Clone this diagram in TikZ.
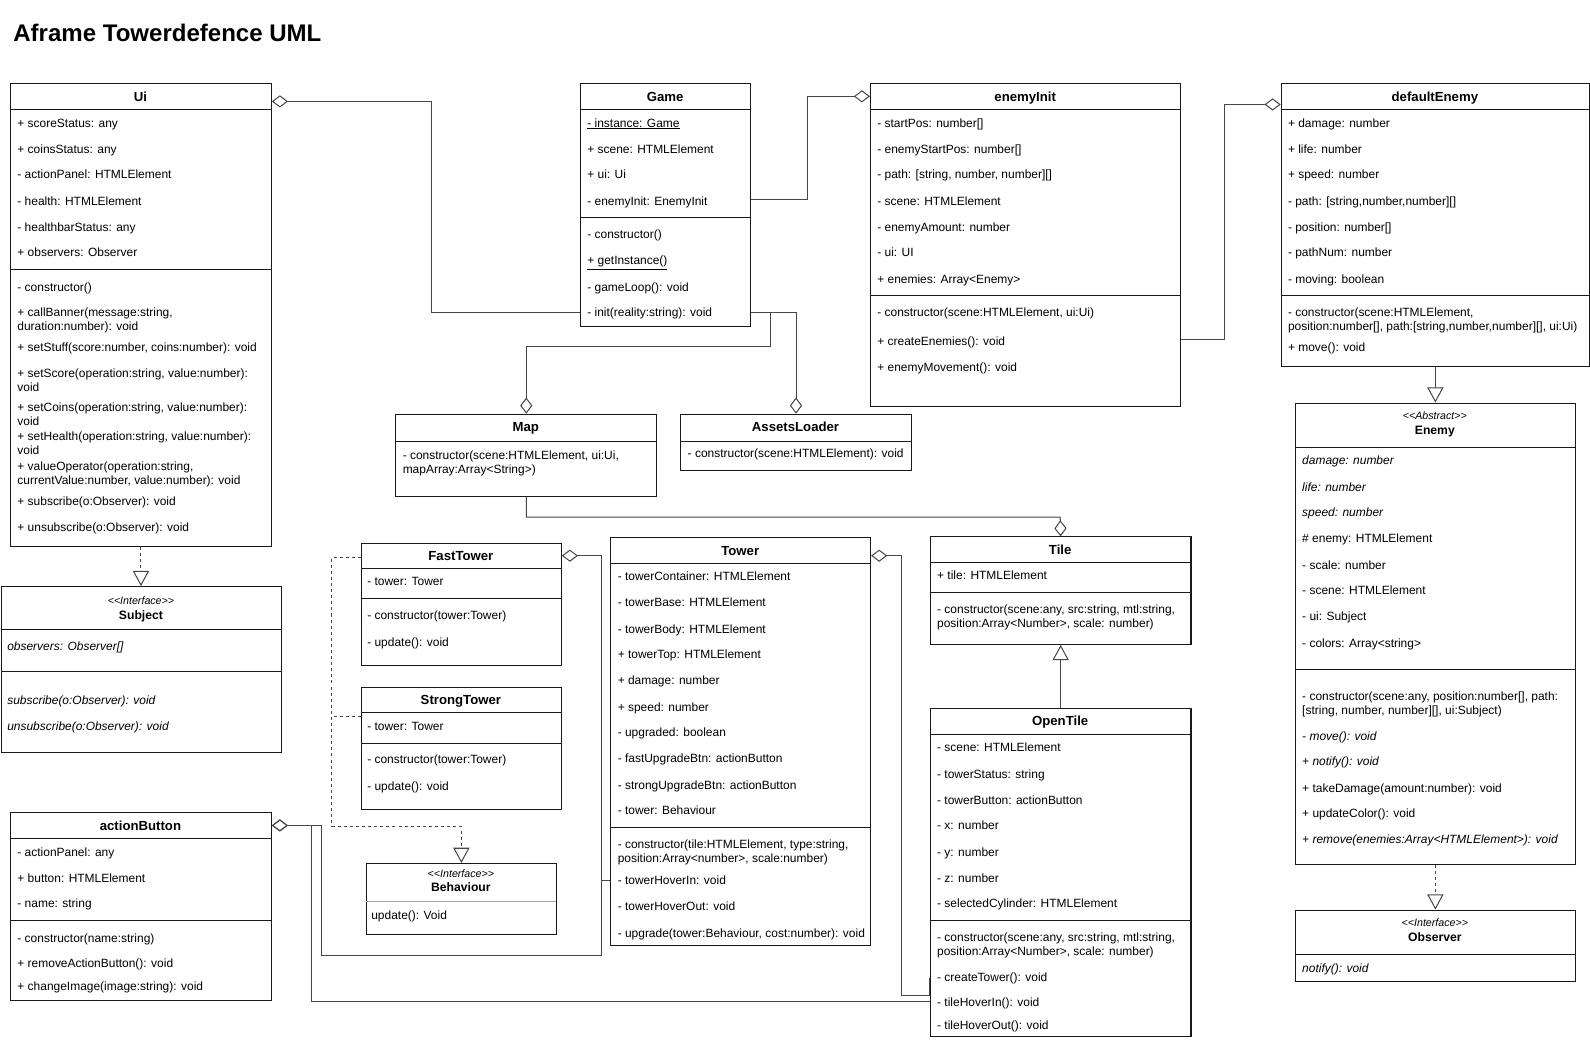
\documentclass[tikz,border=0pt]{standalone}
\usepackage{fontspec}
\setmainfont{Liberation Sans}
\usetikzlibrary{arrows.meta}
\newcounter{memc}
\newcommand\umlbox[6]{% name L T R B headerY
  \node[cls, minimum width={(#4-#2)*1pt}, minimum height={(#5-#3)*1pt}] (#1) at (#2,#3) {};
  \draw[sepline] (#2,#6) -- (#4,#6);}
\newcommand\hsep[3]{\draw[sepline] (#1,#3) -- (#2,#3);}
\newcommand\themememc{\arabic{memc}}
% single-line member: baseline placed relative to the row centre
\newcommand\umem[3]{\stepcounter{memc}\node[mem, anchor=base west] (m-\themememc) at (#1,#2+4.3) {#3};}
% two-line member: centred on the given y
\newcommand\umemm[3]{\stepcounter{memc}\node[mem, anchor=west] (m-\themememc) at (#1,#2+0.5) {#3};}
\newcommand\utitle[4]{\node[ttl, anchor=base] (#1) at (#2,#3+4.6) {#4};}
\newcommand\lt{<{}}
\newcommand\gt{>{}}
\begin{document}
\begin{tikzpicture}[x=1pt,y=-1pt,
  cls/.style={draw=black!90, line width=1pt, fill=white, inner sep=0pt, anchor=north west},
  sepline/.style={draw=black!90, line width=1pt},
  mem/.style={inner sep=0pt, font=\fontsize{11.8}{13.8}\selectfont, align=left},
  ttl/.style={inner sep=0pt, font=\bfseries\fontsize{13}{15}\selectfont},
  sttl/.style={inner sep=0pt, anchor=base, font=\bfseries\fontsize{12}{14}\selectfont},
  stereo/.style={inner sep=0pt, anchor=base, font=\itshape\fontsize{10.5}{12}\selectfont},
  conn/.style={draw=black!72, line width=1pt},
  agg/.style={conn, -{Diamond[open, length=16pt, width=12pt, line width=1pt]}},
  inh/.style={conn, -{Triangle[open, length=15pt, width=16pt, line width=1pt]}},
  real/.style={inh, dash pattern=on 3pt off 3pt},
  dashline/.style={conn, dash pattern=on 3pt off 3pt}
]
\useasboundingbox[fill=white] (0,0) rectangle (1568,1025.6);

\node[anchor=base west, inner sep=0pt, font=\bfseries\fontsize{23.7}{26}\selectfont] (title) at (13,40.5) {Aframe Towerdefence UML};

% ---------------- Ui
\umlbox{ui}{10}{82}{267}{538}{108}
\utitle{uit}{138.5}{95}{Ui}
\umem{17}{121}{+ scoreStatus: any}
\umem{17}{147}{+ coinsStatus: any}
\umem{17}{172}{- actionPanel: HTMLElement}
\umem{17}{198}{- health: HTMLElement}
\umem{17}{224}{- healthbarStatus: any}
\umem{17}{249}{+ observers: Observer}
\hsep{10}{267}{266}
\umem{17}{283}{- constructor()}
\umemm{17}{315}{+ callBanner(message:string,\\duration:number): void}
\umem{17}{342}{+ setStuff(score:number, coins:number): void}
\umemm{17}{374}{+ setScore(operation:string, value:number):\\void}
\umemm{17}{408}{+ setCoins(operation:string, value:number):\\void}
\umemm{17}{437}{+ setHealth(operation:string, value:number):\\void}
\umemm{17}{467}{+ valueOperator(operation:string,\\currentValue:number, value:number): void}
\umem{17}{494}{+ subscribe(o:Observer): void}
\umem{17}{520}{+ unsubscribe(o:Observer): void}

% ---------------- Subject
\umlbox{subject}{1}{578}{277}{742}{621}
\node[stereo] (subj-s) at (139,596) {\lt\lt Interface\gt\gt};
\node[sttl] (subj-t) at (139,610.5) {Subject};
\umem{7}{637}{\itshape observers: Observer[]}
\hsep{1}{277}{662}
\umem{7}{690}{\itshape subscribe(o:Observer): void}
\umem{7}{716}{\itshape unsubscribe(o:Observer): void}

% ---------------- actionButton
\umlbox{actionbutton}{10}{801}{267}{986}{827}
\utitle{abt}{138.5}{814}{actionButton}
\umem{17}{840}{- actionPanel: any}
\umem{17}{866}{+ button: HTMLElement}
\umem{17}{891}{- name: string}
\hsep{10}{267}{908}
\umem{17}{925}{- constructor(name:string)}
\umem{17}{950}{+ removeActionButton(): void}
\umem{17}{972}{+ changeImage(image:string): void}

% ---------------- Game
\umlbox{game}{572}{82}{740}{321}{108}
\utitle{gamet}{656}{95}{Game}
\umem{579}{121}{\underline{- instance: Game}}
\umem{579}{147}{+ scene: HTMLElement}
\umem{579}{172}{+ ui: Ui}
\umem{579}{198}{- enemyInit: EnemyInit}
\hsep{572}{740}{214}
\umem{579}{231}{- constructor()}
\umem{579}{257}{\underline{+ getInstance()}}
\umem{579}{283}{- gameLoop(): void}
\umem{579}{308}{- init(reality:string): void}

% ---------------- enemyInit
\umlbox{enemyinit}{858}{82}{1164}{400}{108}
\utitle{eit}{1011}{95}{enemyInit}
\umem{865}{121}{- startPos: number[]}
\umem{865}{147}{- enemyStartPos: number[]}
\umem{865}{172}{- path: [string, number, number][]}
\umem{865}{198}{- scene: HTMLElement}
\umem{865}{224}{- enemyAmount: number}
\umem{865}{249}{- ui: UI}
\umem{865}{275}{+ enemies: Array\lt Enemy\gt}
\hsep{858}{1164}{291}
\umem{865}{308}{- constructor(scene:HTMLElement, ui:Ui)}
\umem{865}{336}{+ createEnemies(): void}
\umem{865}{362}{+ enemyMovement(): void}

% ---------------- defaultEnemy
\umlbox{defenemy}{1263}{82}{1567}{361}{108}
\utitle{det}{1415}{95}{defaultEnemy}
\umem{1270}{121}{+ damage: number}
\umem{1270}{147}{+ life: number}
\umem{1270}{172}{+ speed: number}
\umem{1270}{198}{- path: [string,number,number][]}
\umem{1270}{224}{- position: number[]}
\umem{1270}{249}{- pathNum: number}
\umem{1270}{275}{- moving: boolean}
\hsep{1263}{1567}{291}
\umemm{1270}{315}{- constructor(scene:HTMLElement,\\position:number[], path:[string,number,number][], ui:Ui)}
\umem{1270}{342}{+ move(): void}

% ---------------- Enemy
\umlbox{enemy}{1277}{397}{1553}{852}{441}
\node[stereo] (en-s) at (1415,414) {\lt\lt Abstract\gt\gt};
\node[sttl] (en-t) at (1415,428.5) {Enemy};
\umem{1284}{454}{\itshape damage: number}
\umem{1284}{480}{\itshape life: number}
\umem{1284}{505}{\itshape speed: number}
\umem{1284}{531}{\# enemy: HTMLElement}
\umem{1284}{557}{- scale: number}
\umem{1284}{582}{- scene: HTMLElement}
\umem{1284}{608}{- ui: Subject}
\umem{1284}{634}{- colors: Array\lt string\gt}
\hsep{1277}{1553}{660}
\umemm{1284}{694}{- constructor(scene:any, position:number[], path:\\{}[string, number, number][], ui:Subject)}
\umem{1284}{726}{\itshape - move(): void}
\umem{1284}{751}{\itshape + notify(): void}
\umem{1284}{777}{+ takeDamage(amount:number): void}
\umem{1284}{802}{+ updateColor(): void}
\umem{1284}{828}{\itshape + remove(enemies:Array\lt HTMLElement\gt): void}

% ---------------- Observer
\umlbox{observer}{1277}{897}{1553}{967}{941}
\node[stereo] (ob-s) at (1415,914) {\lt\lt Interface\gt\gt};
\node[sttl] (ob-t) at (1415,928.5) {Observer};
\umem{1284}{955}{\itshape notify(): void}

% ---------------- Map
\umlbox{map}{390}{408}{647}{489}{435}
\utitle{mapt}{518.5}{421}{Map}
\umemm{397}{456}{- constructor(scene:HTMLElement, ui:Ui,\\mapArray:Array\lt String\gt)}

% ---------------- AssetsLoader
\umlbox{assets}{671}{408}{898}{463}{435}
\utitle{alt}{784.5}{421}{AssetsLoader}
\umem{678}{447}{- constructor(scene:HTMLElement): void}

% ---------------- Tile
\umlbox{tile}{917}{529}{1174}{635}{555}
\utitle{tilet}{1045.5}{542}{Tile}
\umem{924}{567}{+ tile: HTMLElement}
\hsep{917}{1174}{584}
\umemm{924}{608}{- constructor(scene:any, src:string, mtl:string,\\position:Array\lt Number\gt, scale: number)}

% ---------------- OpenTile
\umlbox{opentile}{917}{698}{1174}{1022}{724}
\utitle{ott}{1045.5}{711}{OpenTile}
\umem{924}{737}{- scene: HTMLElement}
\umem{924}{763}{- towerStatus: string}
\umem{924}{789}{- towerButton: actionButton}
\umem{924}{814}{- x: number}
\umem{924}{840}{- y: number}
\umem{924}{866}{- z: number}
\umem{924}{891}{- selectedCylinder: HTMLElement}
\hsep{917}{1174}{908}
\umemm{924}{932}{- constructor(scene:any, src:string, mtl:string,\\position:Array\lt Number\gt, scale: number)}
\umem{924}{964}{- createTower(): void}
\umem{924}{988}{- tileHoverIn(): void}
\umem{924}{1011}{- tileHoverOut(): void}

% ---------------- FastTower
\umlbox{fasttower}{356}{535}{553}{656}{561}
\utitle{ftt}{454.5}{548}{FastTower}
\umem{362}{573}{- tower: Tower}
\hsep{356}{553}{590}
\umem{362}{607}{- constructor(tower:Tower)}
\umem{362}{633}{- update(): void}

% ---------------- StrongTower
\umlbox{strongtower}{356}{677}{553}{798}{703}
\utitle{stt}{454.5}{690}{StrongTower}
\umem{362}{716}{- tower: Tower}
\hsep{356}{553}{733}
\umem{362}{749}{- constructor(tower:Tower)}
\umem{362}{775}{- update(): void}

% ---------------- Tower
\umlbox{tower}{602}{530}{858}{932}{556}
\utitle{towt}{730}{543}{Tower}
\umem{609}{568}{- towerContainer: HTMLElement}
\umem{609}{594}{- towerBase: HTMLElement}
\umem{609}{620}{- towerBody: HTMLElement}
\umem{609}{645}{+ towerTop: HTMLElement}
\umem{609}{671}{+ damage: number}
\umem{609}{697}{+ speed: number}
\umem{609}{722}{- upgraded: boolean}
\umem{609}{748}{- fastUpgradeBtn: actionButton}
\umem{609}{774}{- strongUpgradeBtn: actionButton}
\umem{609}{799}{- tower: Behaviour}
\hsep{602}{858}{816}
\umemm{609}{840}{- constructor(tile:HTMLElement, type:string,\\position:Array\lt number\gt, scale:number)}
\umem{609}{868}{- towerHoverIn: void}
\umem{609}{894}{- towerHoverOut: void}
\umem{609}{920}{- upgrade(tower:Behaviour, cost:number): void}

% ---------------- Behaviour
\node[cls, minimum width=187pt, minimum height=70pt] (behaviour) at (361,851) {};
\draw[draw=black!35, line width=1pt] (361,889) -- (548,889);
\node[stereo] (be-s) at (454.5,865) {\lt\lt Interface\gt\gt};
\node[sttl] (be-t) at (454.5,879.5) {Behaviour};
\umem{366}{902}{update(): Void}

% ================= connectors
% Game -> Ui
\draw[agg] (game.west |- 0,308) -| (426,100) -- (ui.east |- 0,100);
% Game -> enemyInit
\draw[agg] (game.east |- 0,197) -| (796,95) -- (enemyinit.west |- 0,95);
% enemyInit -> defaultEnemy
\draw[agg] (enemyinit.east |- 0,335) -| (1208,103) -- (defenemy.west |- 0,103);
% Game -> Map
\draw[agg] (game.east |- 0,308) -| (760,342) -| (map.north);
% Game -> AssetsLoader
\draw[agg] (game.east |- 0,308) -| (assets.north);
% Map -> Tile
\draw[agg] (map.south) |- (1045.5,510) -- (tile.north);
% OpenTile -> Tile
\draw[inh] (opentile.north) -- (tile.south);
% Tower -> FastTower
\draw[agg] (tower.west |- 0,868) -- (593,868) |- (fasttower.east |- 0,548);
% Tower -> actionButton
\draw[agg] (tower.west |- 0,868) -- (593,868) -- (593,942) -| (317,814) -- (actionbutton.east |- 0,814);
% OpenTile -> Tower
\draw[agg] (opentile.west |- 0,964) -- (opentile.west |- 0,982) -| (889,548) -- (tower.east |- 0,548);
% OpenTile -> actionButton
\draw[agg] (opentile.west |- 0,988) -| (307,814) -- (actionbutton.east |- 0,814);
% FastTower, StrongTower realize Behaviour
\draw[real] (fasttower.west |- 0,550) -| (327,815) -| (behaviour.north);
\draw[dashline] (strongtower.west |- 0,707) -- (327,707);
% Ui realizes Subject
\draw[real] (ui.south) -- (ui.south |- subject.north);
% defaultEnemy extends Enemy
\draw[inh] (defenemy.south) -- (enemy.north);
% Enemy realizes Observer
\draw[real] (enemy.south) -- (observer.north);
\end{tikzpicture}
\end{document}
